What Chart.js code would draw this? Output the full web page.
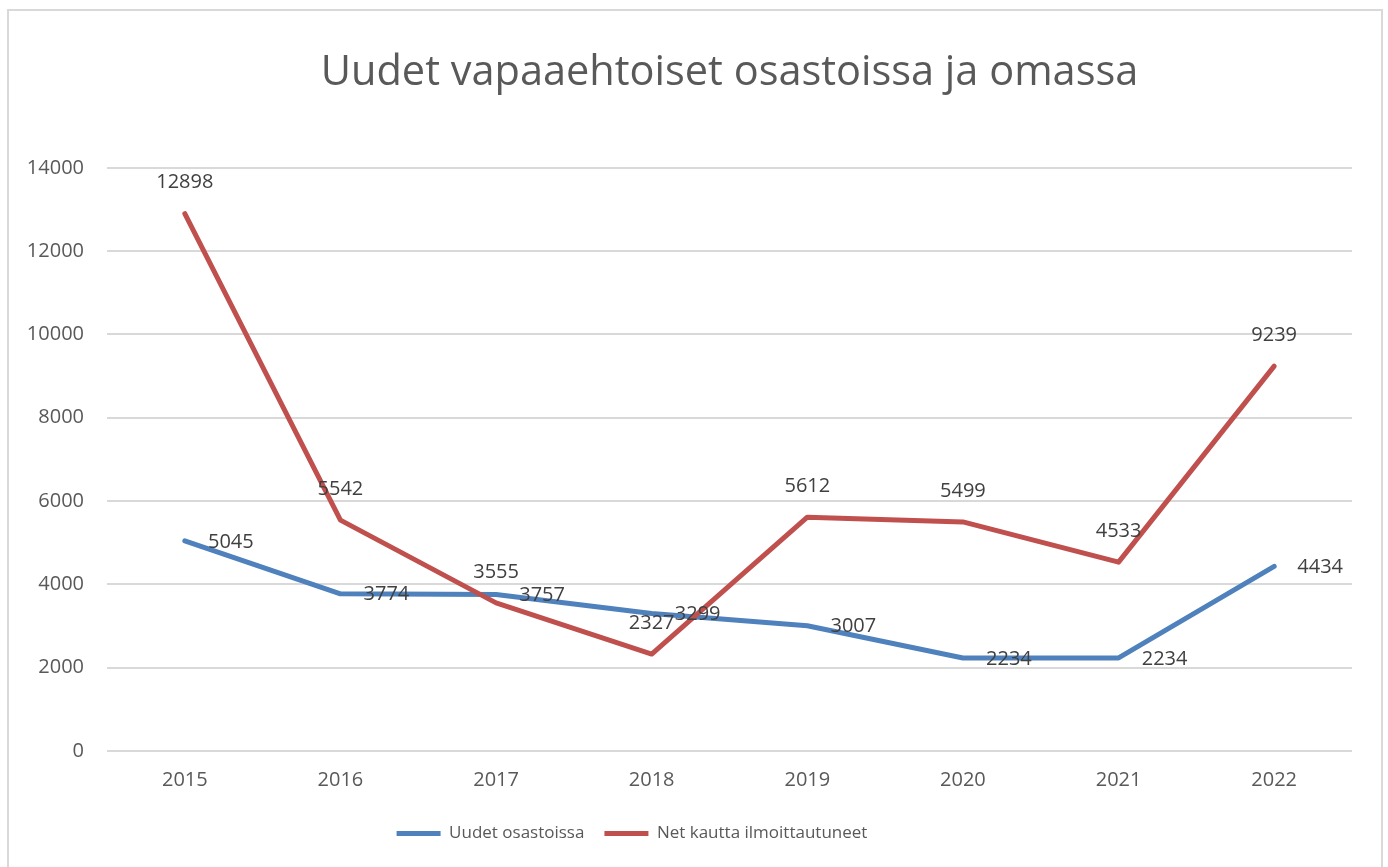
<!DOCTYPE html>
<html>
<head>
<meta charset="utf-8">
<script src="https://cdn.jsdelivr.net/npm/chart.js@4.4.0/dist/chart.umd.min.js"></script>
<style>
  html, body { margin: 0; padding: 0; background: #fff; overflow: hidden; }
  #frame { position: absolute; left: 7px; top: 9px; width: 1372px; height: 900px; border: 2px solid #d9d9d9; }
  #wrap { position: absolute; left: 0; top: 0; width: 1388px; height: 867px; }
</style>
</head>
<body>
<div id="frame"></div>
<div id="wrap"><canvas id="chart"></canvas></div>
<script>
const years = ['2015', '2016', '2017', '2018', '2019', '2020', '2021', '2022'];
const osastoissa = [5045, 3774, 3757, 3299, 3007, 2234, 2234, 4434];
const netKautta = [12898, 5542, 3555, 2327, 5612, 5499, 4533, 9239];
const yTicks = [0, 2000, 4000, 6000, 8000, 10000, 12000, 14000];

const textColor = '#595959';
const fontFamily = "'Open Sans', 'Noto Sans', sans-serif";

// simple value labels next to each point
const valueLabels = {
  id: 'valueLabels',
  afterDatasetsDraw(chart, args, opts) {
    const ctx = chart.ctx;
    ctx.save();
    ctx.font = `${opts.size}px ${fontFamily}`;
    ctx.fillStyle = opts.color;
    ctx.textAlign = 'center';
    ctx.textBaseline = 'middle';
    chart.data.datasets.forEach((ds, i) => {
      const meta = chart.getDatasetMeta(i);
      const off = opts.offsets[i];
      meta.data.forEach((pt, j) => {
        ctx.fillText(String(ds.data[j]), pt.x + off.dx, pt.y + off.dy);
      });
    });
    ctx.restore();
  }
};

// legend sits a bit left of centre in the original
const legendShift = {
  id: 'legendShift',
  afterLayout(chart) {
    chart.legend.left -= 44;
    chart.legend.right -= 44;
  }
};

new Chart(document.getElementById('chart'), {
  type: 'line',
  data: {
    labels: years,
    datasets: [
      {
        label: 'Uudet osastoissa',
        data: osastoissa,
        borderColor: '#4f81bd',
        backgroundColor: '#4f81bd',
        borderWidth: 5,
        borderCapStyle: 'round',
        borderJoinStyle: 'round',
        pointRadius: 0,
        tension: 0,
        order: 2,
      },
      {
        label: 'Net kautta ilmoittautuneet',
        data: netKautta,
        borderColor: '#c0504d',
        backgroundColor: '#c0504d',
        borderWidth: 5,
        borderCapStyle: 'round',
        borderJoinStyle: 'round',
        pointRadius: 0,
        tension: 0,
        order: 1,
      },
    ],
  },
  plugins: [valueLabels, legendShift],
  options: {
    responsive: true,
    maintainAspectRatio: false,
    animation: false,
    layout: { padding: { left: 0, right: 36, top: 0, bottom: 15 } },
    plugins: {
      title: {
        display: true,
        fullSize: false,
        text: 'Uudet vapaaehtoiset osastoissa ja omassa',
        color: textColor,
        font: { family: fontFamily, size: 41.5, weight: 'normal' },
        padding: { top: 48, bottom: 70 },
      },
      legend: {
        position: 'bottom',
        labels: {
          color: textColor,
          font: { family: fontFamily, size: 17 },
          usePointStyle: true,
          pointStyle: 'line',
          pointStyleWidth: 44,
          padding: 20,
          sort: (a, b) => a.datasetIndex - b.datasetIndex,
        },
      },
      tooltip: { enabled: false },
      valueLabels: {
        size: 20,
        color: '#404040',
        offsets: [{ dx: 46, dy: 1 }, { dx: 0, dy: -31 }],
      },
    },
    scales: {
      x: {
        offset: true,
        afterFit: (scale) => { scale.height = 54; },
        grid: { display: false, drawTicks: false },
        border: { display: false },
        ticks: { color: textColor, font: { family: fontFamily, size: 20 }, padding: 17 },
      },
      y: {
        min: 0,
        max: 14000,
        afterFit: (scale) => { scale.width = 107; },
        afterBuildTicks: (scale) => { scale.ticks = yTicks.map(v => ({ value: v })); },
        grid: { color: '#d9d9d9', lineWidth: 2, drawTicks: false },
        border: { display: false },
        ticks: {
          color: textColor,
          font: { family: fontFamily, size: 20 },
          padding: 23,
          callback: (v) => String(v),
        },
      },
    },
  },
});
</script>
</body>
</html>
